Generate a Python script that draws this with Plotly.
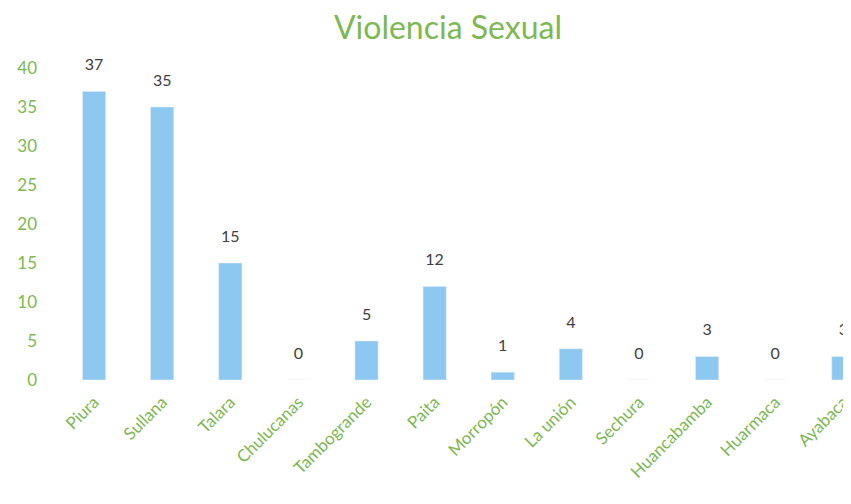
import plotly.graph_objects as go

categories = ["Piura", "Sullana", "Talara", "Chulucanas", "Tambogrande", "Paita",
              "Morropón", "La unión", "Sechura", "Huancabamba", "Huarmaca", "Ayabaca"]
values = [37, 35, 15, 0, 5, 12, 1, 4, 0, 3, 0, 3]
y_ticks = [0, 5, 10, 15, 20, 25, 30, 35, 40]

green = "#7DB852"
xs = list(range(len(categories)))
fig = go.Figure()
fig.add_trace(go.Bar(
    x=xs, y=values, marker=dict(color="#8CC8F0"), width=0.34,
))
fig.add_trace(go.Scatter(
    x=xs, y=values, mode="markers+text", text=[str(v) for v in values],
    textposition="top center", cliponaxis=False,
    marker=dict(size=26, color="rgba(0,0,0,0)"),
    textfont=dict(color="#404040", size=16, family="Lato"),
    hoverinfo="skip",
))
fig.update_layout(
    width=851, height=504,
    margin=dict(l=52, r=0, t=60, b=132),
    paper_bgcolor="white", plot_bgcolor="white",
    title=dict(text="Violencia Sexual", x=0.517, xref="container", xanchor="center",
               y=0.96, yanchor="middle",
               font=dict(color=green, size=32, family="Lato")),
    showlegend=False,
    font=dict(family="Lato"),
)
fig.update_xaxes(range=[-0.5, 11.23], tickmode="array",
                 tickvals=xs, ticktext=categories,
                 tickangle=-45, tickfont=dict(color=green, size=17), showgrid=False,
                 showline=False, zeroline=False, ticklabelstandoff=8)
fig.update_yaxes(range=[0, 40], tickvals=y_ticks, tickfont=dict(color=green, size=17),
                 showgrid=False, zeroline=False, ticklabelstandoff=22)
fig.write_html("out.html")
